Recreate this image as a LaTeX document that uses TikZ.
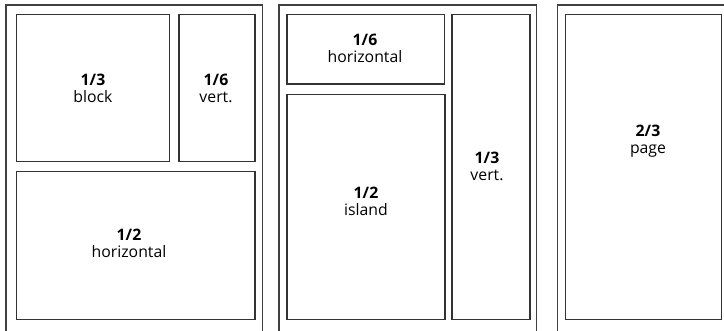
\documentclass[tikz,border=0pt]{standalone}
\usepackage{fontspec}
\setsansfont{Open Sans}
\usetikzlibrary{calc}

\begin{document}
\begin{tikzpicture}[x=1pt,y=-1pt,
  pageframe/.style={line width=1.3pt,draw=black!75},
  panel/.style={line width=1.3pt,draw=black!80},
  lbl/.style={align=center,text=black,inner sep=0pt,
    font=\sffamily\fontsize{15.8}{17}\selectfont}]

  \useasboundingbox (0,0) rectangle (724,330);
  \clip (0,0) rectangle (724,330);

  % the three pages, cut off at the bottom (and the last at the right)
  \draw[pageframe] (6,340) -- (6,5) -- (262.5,5) -- (262.5,340);
  \draw[pageframe] (279,340) -- (279,5) -- (536.7,5) -- (536.7,340);
  \draw[pageframe] (557.3,340) -- (557.3,5) -- (740,5);

  % first page
  \draw[panel] (16.7,14.7) rectangle (169.3,161.7);
  \draw[panel] (179,14.7) rectangle (255,161.7);
  \draw[panel] (16.7,171.7) rectangle (255,319.3);

  \node[lbl] (block) at (93,88) {\textbf{1/3}\\block};
  \node[lbl] (vertsix) at (216,88) {\textbf{1/6}\\vert.};
  \node[lbl] (horizhalf) at (129,243) {\textbf{1/2}\\horizontal};

  % second page
  \draw[panel] (287,14.7) rectangle (444.5,84);
  \draw[panel] (287,94.3) rectangle (445,319.3);
  \draw[panel] (452,14.7) rectangle (530,319.3);

  \node[lbl] (horizsix) at (365,48) {\textbf{1/6}\\horizontal};
  \node[lbl] (island) at (366,201) {\textbf{1/2}\\island};
  \node[lbl] (vertthird) at (487,166) {\textbf{1/3}\\vert.};

  % third page
  \draw[panel] (565.3,14.7) rectangle (721.7,319.3);

  \node[lbl] (fullpage) at (648,141) {\textbf{2/3}\\page};

\end{tikzpicture}
\end{document}
